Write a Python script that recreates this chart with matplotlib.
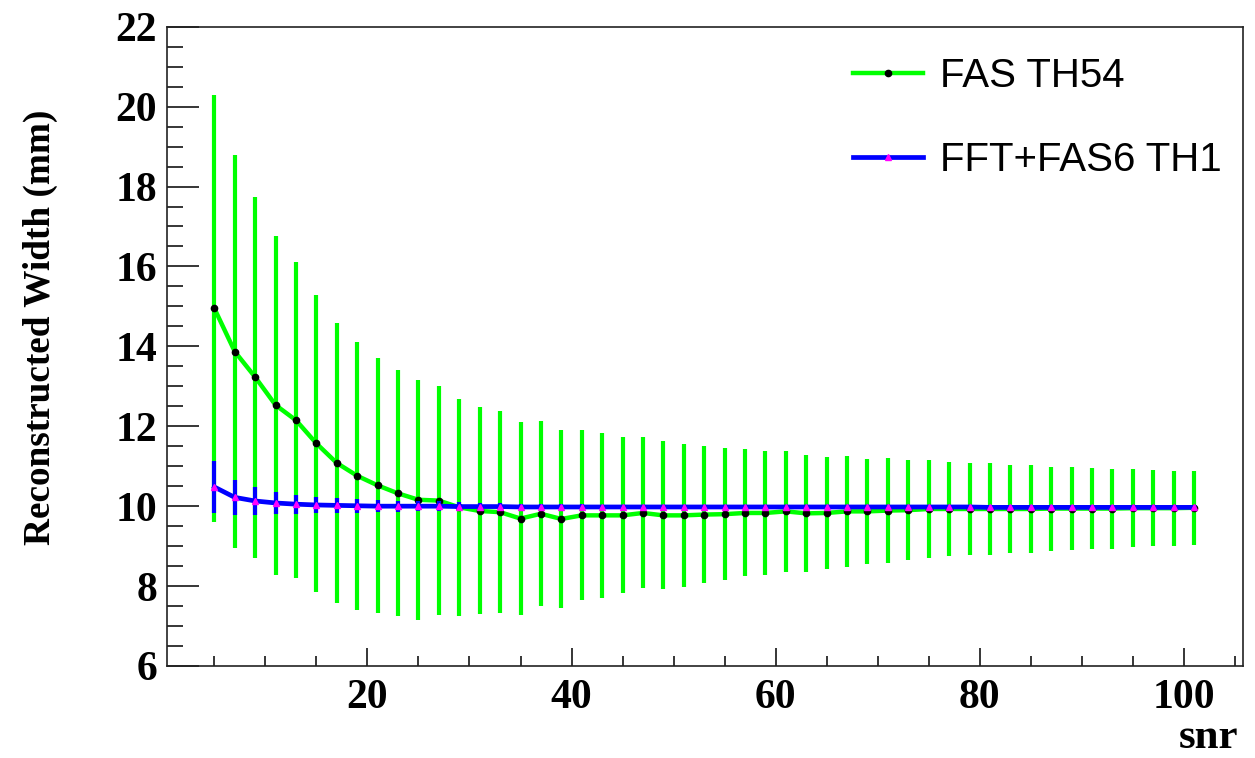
import matplotlib
matplotlib.use("Agg")
import matplotlib.pyplot as plt
from matplotlib.ticker import MultipleLocator, FixedLocator

# snr points (step 2)
snr = list(range(5, 102, 2))

# FAS TH54 : mean reconstructed width and spread
fas_width = [14.95, 13.87, 13.23, 12.53, 12.15, 11.57, 11.08, 10.76, 10.52, 10.32,
             10.16, 10.14, 9.97, 9.88, 9.85, 9.69, 9.81, 9.68, 9.77, 9.77,
             9.77, 9.83, 9.77, 9.77, 9.79, 9.80, 9.83, 9.83, 9.87, 9.82,
             9.83, 9.87, 9.87, 9.89, 9.90, 9.93, 9.93, 9.93, 9.93, 9.93,
             9.93, 9.94, 9.94, 9.94, 9.94, 9.95, 9.95, 9.95, 9.96]
fas_err = [5.35, 4.92, 4.52, 4.24, 3.95, 3.71, 3.50, 3.36, 3.20, 3.08,
           3.00, 2.86, 2.72, 2.59, 2.52, 2.41, 2.32, 2.23, 2.13, 2.07,
           1.95, 1.89, 1.85, 1.79, 1.72, 1.65, 1.59, 1.56, 1.51, 1.47,
           1.40, 1.39, 1.32, 1.31, 1.25, 1.22, 1.18, 1.16, 1.14, 1.11,
           1.09, 1.05, 1.03, 1.02, 1.00, 0.97, 0.95, 0.94, 0.93]

# FFT+FAS6 TH1
fft_width = [10.48, 10.22, 10.13, 10.08, 10.05, 10.03, 10.02, 10.01, 10.00, 10.00,
             10.00, 10.00, 9.99, 9.99, 9.99, 9.98, 9.98, 9.98, 9.98, 9.98,
             9.98, 9.98, 9.98, 9.98, 9.98, 9.98, 9.98, 9.98, 9.98, 9.98,
             9.98, 9.98, 9.98, 9.98, 9.98, 9.98, 9.98, 9.98, 9.97, 9.97,
             9.97, 9.97, 9.97, 9.97, 9.97, 9.97, 9.97, 9.97, 9.97]
fft_err = [0.65, 0.44, 0.34, 0.28, 0.24, 0.21, 0.19, 0.17, 0.15, 0.14,
           0.13, 0.12, 0.11, 0.10, 0.09, 0.08, 0.08, 0.07, 0.07, 0.06,
           0.06, 0.06, 0.05, 0.05, 0.05, 0.05, 0.05, 0.05, 0.04, 0.04,
           0.04, 0.04, 0.04, 0.04, 0.04, 0.04, 0.04, 0.04, 0.04, 0.04,
           0.04, 0.04, 0.04, 0.04, 0.04, 0.04, 0.04, 0.04, 0.04]

serif = "Liberation Serif"
sans = "Liberation Sans"

fig = plt.figure(figsize=(12.55, 7.58), dpi=100)
ax = fig.add_axes([166.7 / 1255, 1 - 666 / 758, (1243 - 166.7) / 1255, (666 - 26.7) / 758])

eb1 = ax.errorbar(snr, fas_width, yerr=fas_err, fmt="-o", color="#00ff00", lw=3.2,
                  elinewidth=3, capsize=0, ms=4.5, mfc="black", mec="black", zorder=2)
eb2 = ax.errorbar(snr, fft_width, yerr=fft_err, fmt="-^", color="#0000ff", lw=3.4,
                  elinewidth=3, capsize=0, ms=5, mfc="#ff00ff", mec="#ff00ff", zorder=3)

ax.set_xlim(0.33, 105.8)
ax.set_ylim(6, 22)

ax.xaxis.set_major_locator(FixedLocator([20, 40, 60, 80, 100]))
ax.xaxis.set_minor_locator(MultipleLocator(5))
ax.yaxis.set_major_locator(MultipleLocator(2))
ax.yaxis.set_minor_locator(MultipleLocator(0.5))

ax.tick_params(axis="x", which="major", direction="in", length=13, width=1.1, pad=9, top=False)
ax.tick_params(axis="x", which="minor", direction="in", length=7, width=1.1, top=False)
ax.tick_params(axis="y", which="major", direction="in", length=23, width=1.1, pad=7, right=False)
ax.tick_params(axis="y", which="minor", direction="in", length=11.5, width=1.1, right=False)

for lab in ax.get_xticklabels() + ax.get_yticklabels():
    lab.set_fontfamily(serif)
    lab.set_fontweight("bold")
    lab.set_fontsize(30)

for sp in ax.spines.values():
    sp.set_linewidth(1.2)
    sp.set_color("#222222")

# axis titles (ROOT style: at the end of the axis)
fig.text(23 / 1255, 1 - 545 / 758, "Reconstructed Width (mm)", rotation=90,
         ha="left", va="bottom", fontsize=26.8, fontweight="bold", family=serif)
fig.text(1238 / 1255, 1 - 757 / 758, "snr", ha="right", va="bottom",
         fontsize=31, fontweight="bold", family=serif)

ax.legend([eb1[0], eb2[0]], ["FAS TH54", "FFT+FAS6 TH1"], loc="upper left",
          bbox_to_anchor=(853 / 1255, 1 - 57 / 758), bbox_transform=fig.transFigure,
          frameon=False, borderpad=0, borderaxespad=0, handlelength=1.75,
          handletextpad=0.42, labelspacing=1.15, prop={"family": sans, "size": 29})

fig.savefig("out.png", dpi=100)
